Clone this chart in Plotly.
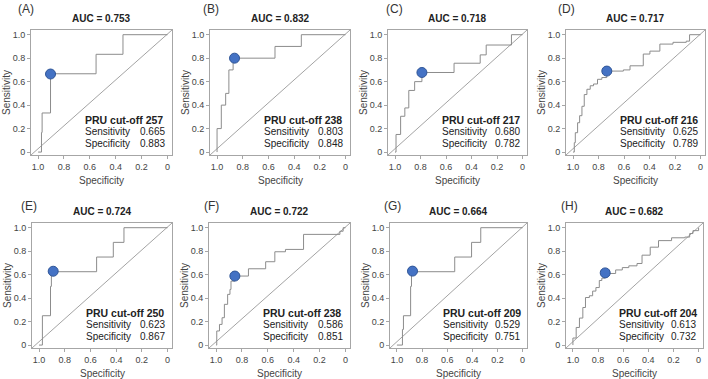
import plotly.graph_objects as go

# ---------------- data ----------------
panel_labels = ["(A)", "(B)", "(C)", "(D)", "(E)", "(F)", "(G)", "(H)"]
auc_values = ["0.753", "0.832", "0.718", "0.717", "0.724", "0.722", "0.664", "0.682"]
cutoffs = ["257", "238", "217", "216", "250", "238", "209", "204"]
sens_text = ["0.665", "0.803", "0.680", "0.625", "0.623", "0.586", "0.529", "0.613"]
spec_text = ["0.883", "0.848", "0.782", "0.789", "0.867", "0.851", "0.751", "0.732"]

A_spec = [1.0, 0.974, 0.969, 0.904, 0.552, 0.344, 0.0]
A_sens = [0.0, 0.167, 0.333, 0.667, 0.833, 1.0, 1.0]

B_spec = [1.0, 1.0, 0.967, 0.933, 0.908, 0.875, 0.549, 0.344, 0.0]
B_sens = [0.0, 0.2, 0.4, 0.5, 0.7, 0.8, 0.9, 1.0, 1.0]

C_spec = [1.0, 0.992, 0.956, 0.923, 0.892, 0.846, 0.789, 0.537, 0.332, 0.285, 0.087, 0.0]
C_sens = [0.0, 0.15, 0.305, 0.376, 0.525, 0.60, 0.678, 0.757, 0.828, 0.912, 1.0, 1.0]

D_spec = [1.0, 0.99, 0.982, 0.964, 0.948, 0.93, 0.912, 0.891, 0.865, 0.839, 0.808, 0.774,
          0.735, 0.605, 0.553, 0.449, 0.397, 0.319, 0.216, 0.112, 0.086, 0.0]
D_sens = [0.0, 0.08, 0.165, 0.25, 0.31, 0.39, 0.49, 0.535, 0.565, 0.58, 0.62, 0.635,
          0.69, 0.70, 0.735, 0.835, 0.86, 0.92, 0.935, 0.945, 1.0, 1.0]

E_spec = [1.0, 0.974, 0.911, 0.904, 0.552, 0.422, 0.339, 0.0]
E_sens = [0.0, 0.25, 0.5, 0.625, 0.75, 0.875, 1.0, 1.0]

F_spec = [1.0, 0.995, 0.974, 0.954, 0.936, 0.911, 0.893, 0.885, 0.855, 0.75, 0.617, 0.546,
          0.464, 0.324, 0.043, 0.018, 0.0]
F_sens = [0.0, 0.12, 0.176, 0.233, 0.347, 0.432, 0.474, 0.545, 0.588, 0.65, 0.71, 0.795,
          0.815, 0.943, 0.97, 1.0, 1.0]

G_spec = [1.0, 0.956, 0.948, 0.891, 0.884, 0.54, 0.406, 0.333, 0.0]
G_sens = [0.0, 0.133, 0.25, 0.5, 0.625, 0.75, 0.875, 1.0, 1.0]

H_spec = [1.0, 1.0, 0.974, 0.948, 0.921, 0.90, 0.869, 0.843, 0.817, 0.79, 0.77, 0.743,
          0.66, 0.607, 0.555, 0.49, 0.45, 0.385, 0.319, 0.215, 0.11, 0.071, 0.045, 0.0]
H_sens = [0.0, 0.06, 0.15, 0.23, 0.32, 0.405, 0.42, 0.46, 0.49, 0.55, 0.57, 0.61,
          0.64, 0.66, 0.675, 0.695, 0.766, 0.834, 0.89, 0.914, 0.92, 0.95, 0.975, 1.0]

dot_spec = [0.904, 0.864, 0.789, 0.735, 0.89, 0.855, 0.876, 0.743]
dot_sens = [0.665, 0.80, 0.678, 0.69, 0.629, 0.588, 0.63, 0.615]

tick_vals = [1.0, 0.8, 0.6, 0.4, 0.2, 0.0]
x_tick_text = ["1.0", "0.8", "0.6", "0.4", "0.2", "0"]
y_tick_vals = [0.0, 0.2, 0.4, 0.6, 0.8, 1.0]
y_tick_text = ["0", "0.2", "0.4", "0.6", "0.8", "1.0"]

specs = [A_spec, B_spec, C_spec, D_spec, E_spec, F_spec, G_spec, H_spec]
senss = [A_sens, B_sens, C_sens, D_sens, E_sens, F_sens, G_sens, H_sens]

# ---------------- layout geometry (pixels) ----------------
W, H = 708, 379
boxes = [(31, 172, 30, 155), (210, 350, 30, 155), (388, 527, 30, 155), (566, 705, 30, 155),
         (32, 172, 223, 348), (209, 350, 223, 348), (390, 527, 223, 348), (566, 703, 223, 348)]
label_pos = [(17, 1), (202, 1), (385, 1), (557, 1), (20, 198), (203, 198), (383, 198), (560, 198)]

FONT = "Liberation Sans, Arial, sans-serif"
GRAY = "#8c8c8c"

fig = go.Figure()
layout = dict(
    width=W, height=H, margin=dict(l=0, r=0, t=0, b=0),
    paper_bgcolor="white", plot_bgcolor="white", showlegend=False,
    font=dict(family=FONT, color="#333"),
)
annotations = []
shapes = []

for i in range(8):
    sfx = "" if i == 0 else str(i + 1)
    xa, ya = "x" + sfx, "y" + sfx
    l, r, t, b = boxes[i]
    fig.add_trace(go.Scatter(x=specs[i], y=senss[i], mode="lines",
                             line=dict(color=GRAY, width=1, shape="hv"),
                             xaxis=xa, yaxis=ya, hoverinfo="skip"))
    fig.add_trace(go.Scatter(x=[dot_spec[i]], y=[dot_sens[i]], mode="markers",
                             marker=dict(size=10, color="#4472C4",
                                         line=dict(color="#2F5597", width=1)),
                             xaxis=xa, yaxis=ya, hoverinfo="skip"))
    layout["xaxis" + sfx] = dict(
        domain=[l / W, r / W], range=[1.055, -0.035], anchor=ya,
        tickmode="array", tickvals=tick_vals, ticktext=x_tick_text,
        showline=True, mirror=True, linecolor="#a6a6a6", linewidth=1,
        ticks="outside", ticklen=3, tickcolor="#a6a6a6",
        tickfont=dict(size=9, color="#444", family=FONT),
        showgrid=False, zeroline=False, fixedrange=True, automargin=False)
    layout["yaxis" + sfx] = dict(
        domain=[1 - b / H, 1 - t / H], range=[-0.025, 1.04], anchor=xa,
        tickmode="array", tickvals=y_tick_vals, ticktext=y_tick_text,
        showline=True, mirror=True, linecolor="#a6a6a6", linewidth=1,
        ticks="outside", ticklen=3, tickcolor="#a6a6a6",
        tickfont=dict(size=9, color="#444", family=FONT),
        showgrid=False, zeroline=False, fixedrange=True, automargin=False)
    shapes.append(dict(type="line", xref=xa + " domain", yref=ya + " domain",
                       x0=0, y0=0, x1=1, y1=1, line=dict(color=GRAY, width=0.8)))
    lx, ly = label_pos[i]
    annotations.append(dict(text=panel_labels[i], xref="paper", yref="paper",
                            x=lx / W, y=1 - ly / H, xanchor="left", yanchor="top",
                            borderpad=0, showarrow=False,
                            font=dict(size=12, color="#333", family=FONT)))
    annotations.append(dict(text="<b>AUC = " + auc_values[i] + "</b>", xref="paper", yref="paper",
                            x=(l + r) / 2 / W, y=1 - (t - 12) / H, xanchor="center", yanchor="middle",
                            showarrow=False, font=dict(size=10, color="#222", family=FONT)))
    annotations.append(dict(text="Specificity", xref=xa + " domain", yref=ya + " domain",
                            x=0.5, y=0, xanchor="center", yanchor="top", yshift=-19,
                            borderpad=0, showarrow=False,
                            font=dict(size=10, color="#444", family=FONT)))
    annotations.append(dict(text="Sensitivity", xref=xa + " domain", yref=ya + " domain",
                            x=0, y=0.5, xanchor="right", yanchor="middle", xshift=-18,
                            textangle=-90, borderpad=0, showarrow=False,
                            font=dict(size=10, color="#444", family=FONT)))
    bh = b - t
    rows = [(89.7, "<b>PRU cut-off " + cutoffs[i] + "</b>", None),
            (101.5, "Sensitivity", sens_text[i]),
            (113.5, "Specificity", spec_text[i])]
    for off, left_txt, right_txt in rows:
        yy = 1 - off / bh
        annotations.append(dict(text=left_txt, xref=xa + " domain", yref=ya + " domain",
                                x=0.378, y=yy, xanchor="left", yanchor="middle",
                                borderpad=0, showarrow=False,
                                font=dict(size=10.5 if right_txt is None else 10,
                                          color="#222", family=FONT)))
        if right_txt is not None:
            annotations.append(dict(text=right_txt, xref=xa + " domain", yref=ya + " domain",
                                    x=0.955, y=yy, xanchor="right", yanchor="middle",
                                    borderpad=0, showarrow=False,
                                    font=dict(size=10, color="#222", family=FONT)))

layout["annotations"] = annotations
layout["shapes"] = shapes
fig.update_layout(**layout)
fig.write_html("out.html", config={"displayModeBar": False},
               post_script="document.body.style.margin='0px';document.body.style.padding='0px';")
